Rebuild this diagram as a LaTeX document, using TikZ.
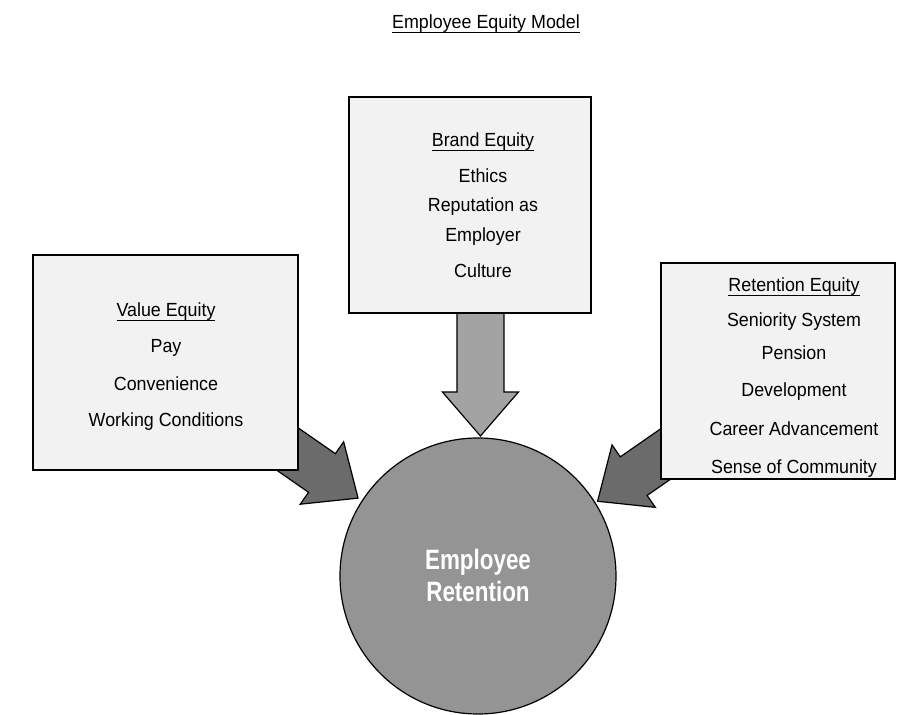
\documentclass[tikz,border=0pt]{standalone}
\usepackage{fontspec}
\setmainfont{Liberation Sans}[FakeStretch=0.94]
\newfontfamily\condbold{Liberation Sans}[FakeStretch=0.8]
\usetikzlibrary{calc}
% underline that sits just below the baseline, crossing the descenders
\newcommand\ulabel[1]{\setbox0\hbox{#1}\rlap{\rule[-3.4pt]{\wd0}{0.8pt}}\box0}
\begin{document}
\begin{tikzpicture}[x=1pt,y=1pt,
  item/.style={font=\fontsize{19}{22}\selectfont, anchor=base, inner sep=0pt},
  panel/.style={draw=black, line width=1.4pt, fill=black!5, inner sep=0pt},
  fat/.style={draw=black, line width=1.2pt, line join=miter},
  core/.style={draw=black, line width=1.2pt, circle, fill=black!42, inner sep=0pt, minimum size=276},
  coretext/.style={font=\condbold\bfseries\fontsize{28}{30}\selectfont, text=white, anchor=base, inner sep=0pt},
  pics/fatarrow/.style args={#1/#2}{code={
    \draw[fat, fill=#2] (0,0) -- (-44,38) -- (-44,23.5) -- (-#1,23.5)
      -- (-#1,-23.5) -- (-44,-23.5) -- (-44,-38) -- cycle;}}
]
\useasboundingbox (0,0) rectangle (908,715);

% central circle (placed first so the arrow tips can refer to it)
\node[core] (ret) at (478,139) {};

% arrow tips sit just outside the circle
\coordinate (tipB) at ($(ret.center)+(89:140)$);
\coordinate (tipV) at ($(ret.center)+(147:143)$);
\coordinate (tipR) at ($(ret.center)+(32:141)$);

% broad arrows, drawn before the panels so their tails are hidden
\pic[rotate=-90] at (tipB) {fatarrow={126/black!36}};
\pic[rotate=-34.8] at (tipV) {fatarrow={110/black!58}};
\pic[rotate=214.8] at (tipR) {fatarrow={110/black!58}};

% panels
\node[panel, minimum width=242, minimum height=216] (brand) at (470,510) {};
\node[panel, minimum width=265, minimum height=215] (value) at (165.5,352.5) {};
\node[panel, minimum width=234, minimum height=216] (keep) at (778,344) {};

% title
\node[item] (title) at (486,686) {\ulabel{Employee Equity Model}};

% brand equity
\node[item] (b0) at (483,568) {\ulabel{Brand Equity}};
\node[item] (b1) at (483,532) {Ethics};
\node[item] (b2) at (483,503) {Reputation as};
\node[item] (b3) at (483,473) {Employer};
\node[item] (b4) at (483,437) {Culture};

% value equity
\node[item] (v0) at (166,398) {\ulabel{Value Equity}};
\node[item] (v1) at (166,362) {Pay};
\node[item] (v2) at (166,324) {Convenience};
\node[item] (v3) at (166,288) {Working Conditions};

% retention equity
\node[item] (r0) at (794,423) {\ulabel{Retention Equity}};
\node[item] (r1) at (794,388) {Seniority System};
\node[item] (r2) at (794,355) {Pension};
\node[item] (r3) at (794,318) {Development};
\node[item] (r4) at (794,279) {Career Advancement};
\node[item] (r5) at (794,241) {Sense of Community};

% circle label
\node[coretext] (c0) at (478,145) {Employee};
\node[coretext] (c1) at (478,113) {Retention};
\end{tikzpicture}
\end{document}
